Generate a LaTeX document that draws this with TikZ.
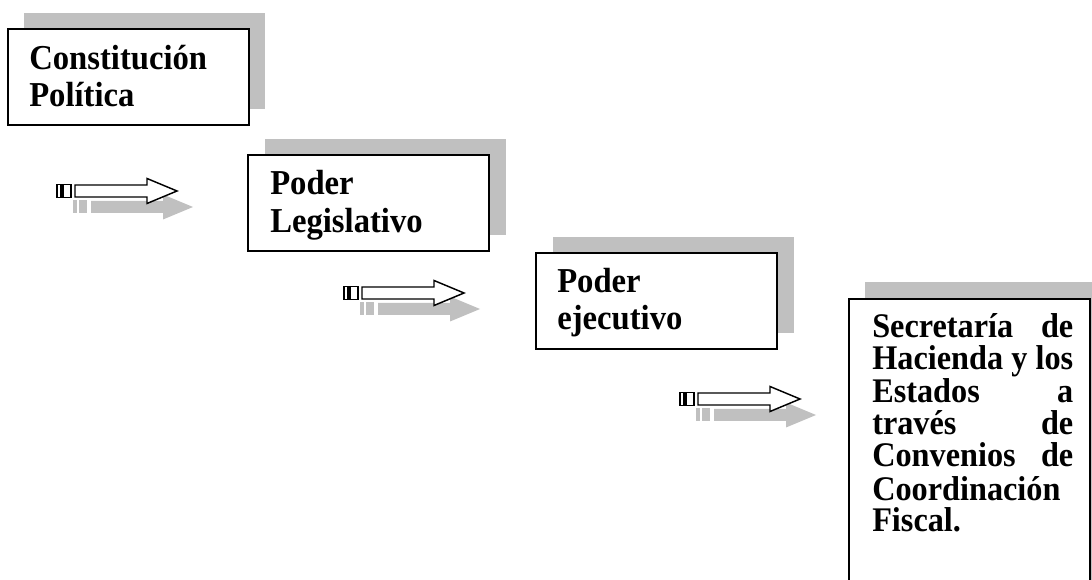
\documentclass[tikz,border=0pt]{standalone}
\usepackage{graphicx}
\usepackage{fontspec}
\setmainfont{Liberation Serif}
\definecolor{shade}{RGB}{192,192,192}
\newcommand{\stx}[1]{\scalebox{1}[1.07]{#1}}
\tikzset{
  boxframe/.style={draw=black, line width=1.5pt, fill=white},
  boxshadow/.style={fill=shade, draw=none},
  lbl/.style={font=\bfseries\fontsize{24.5pt}{25pt}\selectfont, inner sep=0pt, anchor=base west},
  lblj/.style={font=\bfseries\fontsize{24.2pt}{25pt}\selectfont, inner sep=0pt, anchor=base west},
  arrowline/.style={draw=black, line width=1.1pt, fill=white, line join=miter},
  arrowshade/.style={fill=shade, draw=none},
  pics/blockarrow/.style={code={
    \begin{scope}[shift={(16,16)}]
      \fill[arrowshade] (0,-6.5) rectangle (4,6.5);
      \fill[arrowshade] (6,-6.5) rectangle (14,6.5);
      \fill[arrowshade] (18,-6) -- (90,-6) -- (90,-12.5) -- (120,0) -- (90,12.5) -- (90,6) -- (18,6) -- cycle;
    \end{scope}
    \path[arrowline] (0,-6.5) rectangle (4,6.5);
    \path[arrowline] (6,-6.5) rectangle (14,6.5);
    \path[arrowline] (18,-6) -- (90,-6) -- (90,-12.5) -- (120,0) -- (90,12.5) -- (90,6) -- (18,6) -- cycle;
  }}
}
\begin{document}
\begin{tikzpicture}[x=0.75pt,y=-0.75pt]
\useasboundingbox (0,0) rectangle (1092,580);
\clip (0,0) rectangle (1092,580);

% Box 1
\fill[boxshadow] (24,13) rectangle (265,109);
\path[boxframe] (8,29) rectangle (249,125);
\node[lbl] (t1a) at (29,70) {\stx{Constitución}};
\node[lbl] (t1b) at (29,107) {\stx{Política}};

% Box 2
\fill[boxshadow] (265,139) rectangle (506,235);
\path[boxframe] (248,155) rectangle (489,251);
\node[lbl] (t2a) at (270,195) {\stx{Poder}};
\node[lbl] (t2b) at (270,233) {\stx{Legislativo}};

% Box 3
\fill[boxshadow] (553,237) rectangle (794,333);
\path[boxframe] (536,253) rectangle (777,349);
\node[lbl] (t3a) at (557,293) {\stx{Poder}};
\node[lbl] (t3b) at (557,330) {\stx{ejecutivo}};

% Box 4
\fill[boxshadow] (865,282) rectangle (1110,600);
\path[boxframe] (849,299) rectangle (1090,620);
\node[lblj] (t4a) at (872,338) {\stx{\hbox to 150.75pt{Secretaría\hfill de}}};
\node[lblj] (t4b) at (872,370) {\stx{\hbox to 150.75pt{Hacienda\hfill y\hfill los}}};
\node[lblj] (t4c) at (872,403) {\stx{\hbox to 150.75pt{Estados\hfill a}}};
\node[lblj] (t4d) at (872,435) {\stx{\hbox to 150.75pt{través\hfill de}}};
\node[lblj] (t4e) at (872,467) {\stx{\hbox to 150.75pt{Convenios\hfill de}}};
\node[lblj] (t4f) at (872,500) {\stx{Coordinación}};
\node[lblj] (t4g) at (872,532) {\stx{Fiscal.}};

% Arrows
\pic (a1) at (57,191) {blockarrow};
\pic (a2) at (344,293) {blockarrow};
\pic (a3) at (680,399) {blockarrow};
\end{tikzpicture}
\end{document}
